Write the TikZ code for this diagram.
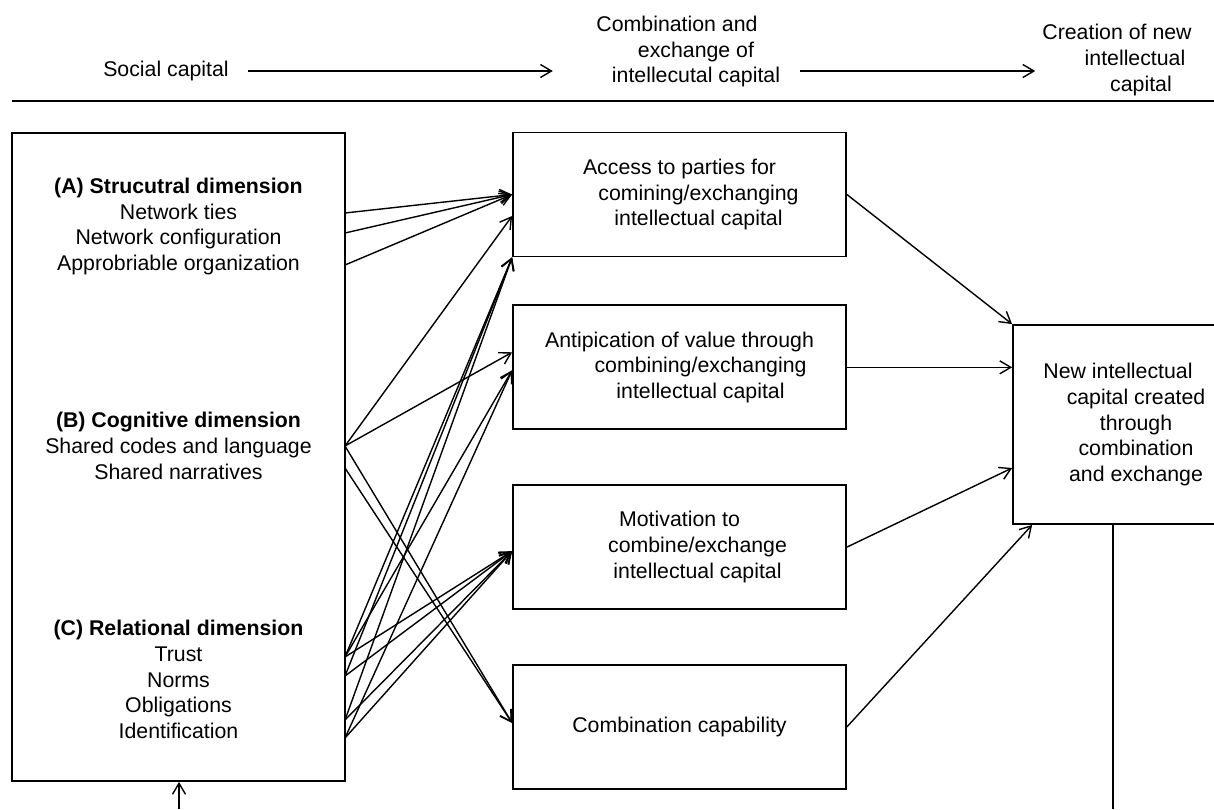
\documentclass[tikz,border=0pt]{standalone}
\usepackage{fontspec}
\setmainfont{Liberation Sans}
\usetikzlibrary{arrows.meta, positioning}
\tikzstyle{box} = [rectangle, minimum width=333pt, minimum height=124pt, align=center, draw=black, line width=1.8pt, inner sep=0pt]
\tikzstyle{headtext} = [align=center, inner sep=0pt]
\tikzstyle{arrow} = [line width=1.4pt, -{Straight Barb[length=11pt,width=13pt]}]

\begin{document}
\begin{tikzpicture}[x=1pt, y=-1pt, node distance=54pt, font=\fontsize{21.3}{25.7}\selectfont]
\useasboundingbox (0,0) rectangle (1214,809);
% header row
\node (social) [headtext] at (166,71) {Social capital};
\node (combi) [headtext] at (696,51.5) {Combination and\hspace*{38pt}\\exchange of\\intellecutal capital};
\node (create) [headtext] at (1117,60) {Creation of new\\\hspace*{36pt}intellectual\\\hspace*{48pt}capital};
\draw [arrow, shorten <=19.5pt, shorten >=43.5pt] (social.east) -- (social.east -| combi.west);
\draw [arrow, shorten <=4.5pt, shorten >=7pt] (social.east -| combi.east) -- (social.east -| create.west);
\coordinate (rule_l) at (12,101);
\coordinate (rule_r) at (1214,101);
\draw [line width=2.4pt] (rule_l) -- (rule_r);

% social capital box
\node (sc) [box, minimum height=648pt] at (178.5,457) {};
\node (structural) [headtext] at (178.5,226.5) {\textbf{(A) Strucutral dimension}\\Network ties\\Network configuration\\Approbriable organization};
\node (cognitive) [headtext] at (178.5,446) {\textbf{(B) Cognitive dimension}\\Shared codes and language\\Shared narratives};
\node (relational) [headtext] at (178.5,679.5) {\textbf{(C) Relational dimension}\\Trust\\Norms\\Obligations\\Identification};

% combination and exchange
\node (access) [box] at (679.5,194.5) {Access to parties for\\\hspace*{38pt}comining/exchanging\\\hspace*{38pt}intellectual capital};
\node (antic) [box, below=47pt of access] {Antipication of value through\\\hspace*{42pt}combining/exchanging\\\hspace*{42pt}intellectual capital};
\node (motiv) [box, below=of antic] {Motivation to\\\hspace*{36pt}combine/exchange\\\hspace*{36pt}intellectual capital};
\node (combcap) [box, below=of motiv] {Combination capability};

% new intellectual capital
\node (nic) [box, minimum width=246pt, minimum height=199pt] at (1136,424.5) {New intellectual\hspace*{36pt}\\capital created\\through\\combination\\and exchange};

% starting points on the left box
\coordinate (ties) at (345,213);
\coordinate (config) at (345,233);
\coordinate (approb) at (345,265);
\coordinate (codes) at (345,446);
\coordinate (narr) at (345,468);
\coordinate (trust) at (345,657);
\coordinate (norms) at (345,676);
\coordinate (oblig) at (345,720);
\coordinate (ident) at (345,738);

\draw [arrow] (ties) -- (access.west);
\draw [arrow] (config) -- (access.west);
\draw [arrow] (approb) -- (access.west);
\draw [arrow] (codes) -- ([yshift=-21.5pt]access.west);
\draw [arrow] (codes) -- ([yshift=15pt]antic.west);
\draw [arrow] (codes) -- ([yshift=4pt]combcap.west);
\draw [arrow] (narr) -- ([yshift=4pt]combcap.west);
\draw [arrow] (trust) -- (access.south west);
\draw [arrow] (norms) -- (access.south west);
\draw [arrow] (oblig) -- (access.south west);
\draw [arrow] (trust) -- ([yshift=-3pt]antic.west);
\draw [arrow] (ident) -- ([yshift=-3pt]antic.west);
\draw [arrow] (trust) -- ([yshift=-4pt]motiv.west);
\draw [arrow] (norms) -- ([yshift=-4pt]motiv.west);
\draw [arrow] (oblig) -- ([yshift=-4pt]motiv.west);
\draw [arrow] (ident) -- ([yshift=-4pt]motiv.west);

\draw [arrow] (access.east) -- (nic.north west);
\draw [arrow] (antic.east) -- (nic.west |- antic.east);
\draw [arrow] (motiv.east) -- ([yshift=-43.5pt]nic.west);
\draw [arrow] (combcap.east) -- ([xshift=20pt]nic.south west);

% feedback lines
\coordinate (fb_in) at (179,809);
\draw [arrow] (fb_in) -- (fb_in |- sc.south);
\coordinate (fb_out) at (1113,809);
\draw [line width=1.8pt] (fb_out |- nic.south) -- (fb_out);
\end{tikzpicture}
\end{document}
